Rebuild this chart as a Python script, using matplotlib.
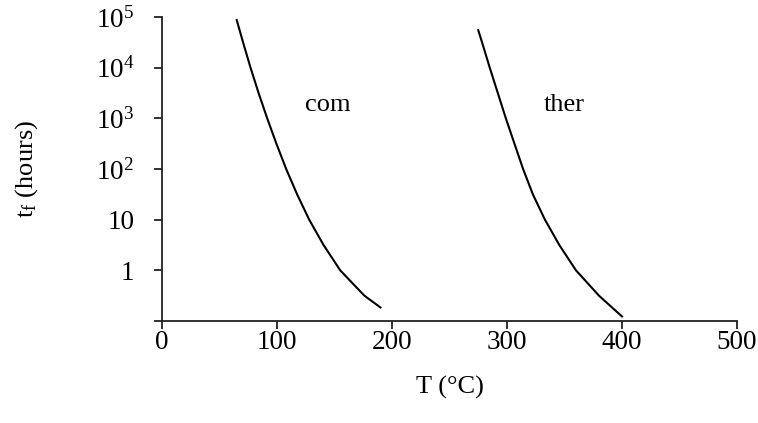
import matplotlib.pyplot as plt

plt.rcParams['font.family'] = ['Liberation Serif', 'DejaVu Serif']
plt.rcParams['mathtext.fontset'] = 'custom'
plt.rcParams['mathtext.rm'] = 'Liberation Serif'
plt.rcParams['mathtext.it'] = 'Liberation Serif:italic'

# values (T in °C, time to failure in hours)
com_T = [65, 70.5, 77, 84, 91.5, 99.5, 108, 117.5, 128, 140.5, 155, 176, 190]
com_t = [87000, 31600, 10000, 3160, 1000, 316, 100, 31.6, 10, 3.16, 1, 0.316, 0.185]
ther_T = [275, 278.3, 285, 292, 299, 306.5, 314, 322.5, 333, 345.5, 360, 380, 400]
ther_t = [55000, 31600, 10000, 3160, 1000, 316, 100, 31.6, 10, 3.16, 1, 0.316, 0.123]

y_ticks = [0.1, 1, 10, 100, 1e3, 1e4, 1e5]
y_labels = ['', '1', '10', r'10$^\mathregular{2}$', r'10$^\mathregular{3}$',
            r'10$^\mathregular{4}$', r'10$^\mathregular{5}$']
x_ticks = [0, 100, 200, 300, 400, 500]

fig = plt.figure(figsize=(7.58, 4.23), dpi=100)
ax = fig.add_axes([0.2137, 0.2411, 0.7586, 0.7187])

ax.plot(com_T, com_t, color='black', lw=1.5, solid_joinstyle='round')
ax.plot(ther_T, ther_t, color='black', lw=1.5, solid_joinstyle='round')

ax.text(144, 1800, 'com', fontsize=19, ha='center', va='center')
ax.text(350, 1800, 'ther', fontsize=19, ha='center', va='center')

ax.set_yscale('log')
ax.set_xlim(0, 500)
ax.set_ylim(0.1, 1e5)
ax.set_yticks(y_ticks)
ax.set_yticklabels(y_labels)
ax.minorticks_off()
ax.set_xticks(x_ticks)

for s in ['top', 'right']:
    ax.spines[s].set_visible(False)
for s in ['left', 'bottom']:
    ax.spines[s].set_linewidth(1.3)
    ax.spines[s].set_color('#222222')

ax.tick_params(axis='both', labelsize=19.5, width=1.3, length=6, color='#222222')
ax.tick_params(axis='y', pad=14)
ax.tick_params(axis='x', pad=0.5)

ax.set_xlabel('T (°C)', fontsize=19)
ax.set_ylabel(r't$_\mathregular{f}$ (hours)', fontsize=19)
ax.xaxis.set_label_coords(0.5, -0.18)
ax.yaxis.set_label_coords(-0.213, 0.5)

fig.savefig('out.png', dpi=100)
